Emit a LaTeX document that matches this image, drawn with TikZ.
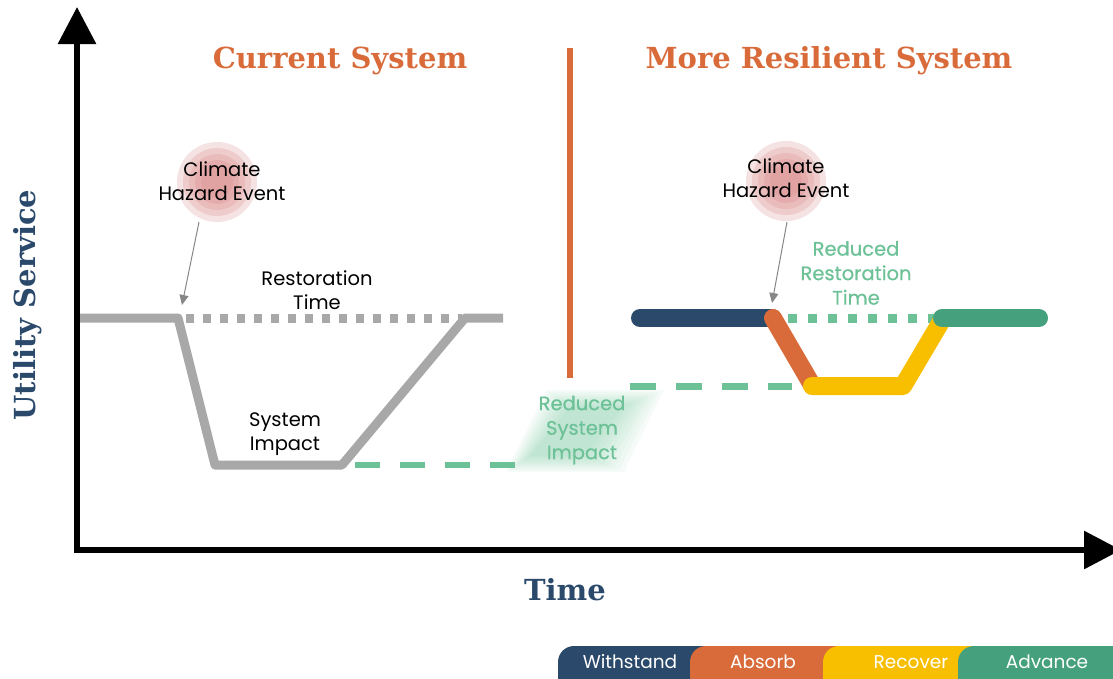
\documentclass[tikz,border=0pt]{standalone}
\usepackage{fontspec}
\setmainfont{Poppins}
\newfontfamily\popsemi[FakeBold=0.5]{Poppins}
\newfontfamily\slab{DejaVu Serif}
\usetikzlibrary{arrows.meta}
\definecolor{navy}{HTML}{2B4A6B}
\definecolor{orng}{HTML}{D96B3A}
\definecolor{yell}{HTML}{F8BE00}
\definecolor{dgrn}{HTML}{45A07D}
\definecolor{lgrn}{HTML}{6CC196}
\definecolor{gry}{HTML}{A8A8A8}
\definecolor{hazred}{HTML}{D98A8A}
\tikzset{
  axis/.style={line width=6pt, -{Triangle[width=37pt,length=37pt]}},
  head/.style={text=orng, font=\slab\bfseries\fontsize{29}{32}\selectfont, inner sep=0pt},
  axlabel/.style={text=navy, font=\slab\bfseries\fontsize{29}{32}\selectfont, inner sep=0pt},
  lbl/.style={align=center, font=\fontsize{19.5}{24}\selectfont, inner sep=0pt},
  glbl/.style={align=center, font=\popsemi\fontsize{19.5}{24.5}\selectfont, inner sep=0pt, text=lgrn},
  thick line/.style={line width=18pt, line cap=round, line join=round},
  pointer/.style={gry!80!black, line width=1pt, -{Triangle[width=9pt,length=10pt]}},
  leg/.style={text=white, font=\fontsize{18.5}{20}\selectfont, inner sep=0pt},
}
\begin{document}
\begin{tikzpicture}[x=1pt,y=-1pt]
\useasboundingbox (0,0) rectangle (1113,678);
% axes
\coordinate (o) at (77,550);
\coordinate (ytop) at (77,7);
\coordinate (xend) at (1121,550);
\draw[axis] (77,553) -- (ytop);
\draw[axis] (74,550) -- (xend);
\node[axlabel, rotate=90] (ylab) at (28,305) {Utility Service};
\node[axlabel] (xlab) at (565,590) {Time};
% headers
\node[head] (h1) at (340,61) {Current System};
\node[head] (h2) at (829,61) {More Resilient System};
\draw[orng, line width=6pt] (570,48) -- (570,378);
% glow
\foreach \i in {0,...,8}{
  \fill[lgrn, opacity=0.06] (506+\i*3,472-\i*2) -- ++(40,-82+\i*4) -- ++(118-\i*8,0) -- ++(-40,82-\i*4) -- cycle;
}
% left curve
\draw[lgrn, line width=6pt, dash pattern=on 25pt off 20pt] (355,465) -- (520,465);
\draw[gry, line width=9pt, dash pattern=on 8pt off 9pt] (186,318) -- (462,318);
\draw[gry, line width=9pt, line join=round] (80,318) -- (178,318) -- (215,465) -- (342,465) -- (465,318) -- (503,318);
% right curve
\draw[lgrn, line width=7pt, dash pattern=on 26pt off 20pt] (630,386) -- (792,386);
\draw[lgrn, line width=9pt, dash pattern=on 9pt off 11pt] (788,318) -- (935,318);
\draw[navy, thick line] (640,318) -- (772,318);
\draw[orng, thick line] (773,318) -- (812,385);
\draw[yell, thick line] (812,386) -- (903,386) -- (942,320);
\draw[dgrn, thick line] (942,318) -- (1039,318);
% hazard circles
\foreach \c/\n in {{(217,182)}/hz1,{(786,181)}/hz2}{
  \foreach \r/\o in {40/0.25,34/0.25,28/0.25,22/0.3,16/0.3}{
    \fill[hazred, opacity=\o] \c circle[radius=\r];
  }
  \node[circle, minimum size=80pt, inner sep=0pt] (\n) at \c {};
}
\node[lbl] (t1) at (222,181) {Climate\\Hazard Event};
\node[lbl] (t2) at (786,178) {Climate\\Hazard Event};
\coordinate (p1) at (182,305);
\coordinate (p2) at (772,303);
\draw[pointer] (199,222) -- (p1);
\draw[pointer] (787,222) -- (p2);
% labels
\node[lbl] (rt) at (317,290) {Restoration\\Time};
\node[lbl] (si) at (285,434) {System\\Impact};
\node[glbl] (rsi) at (582,430) {Reduced\\System\\Impact};
\node[glbl] (rrt) at (856,273) {Reduced\\Restoration\\Time};
% legend
\fill[navy, rounded corners=16pt] (558,646) rectangle (720,700);
\fill[orng, rounded corners=16pt] (690,646) rectangle (850,700);
\fill[yell, rounded corners=16pt] (823,646) rectangle (985,700);
\fill[dgrn, rounded corners=16pt] (958,646) rectangle (1130,700);
\node[leg] (lw) at (630,662) {Withstand};
\node[leg] (la) at (763,662) {Absorb};
\node[leg] (lr) at (911,662) {Recover};
\node[leg] (ld) at (1047,662) {Advance};
\end{tikzpicture}
\end{document}
